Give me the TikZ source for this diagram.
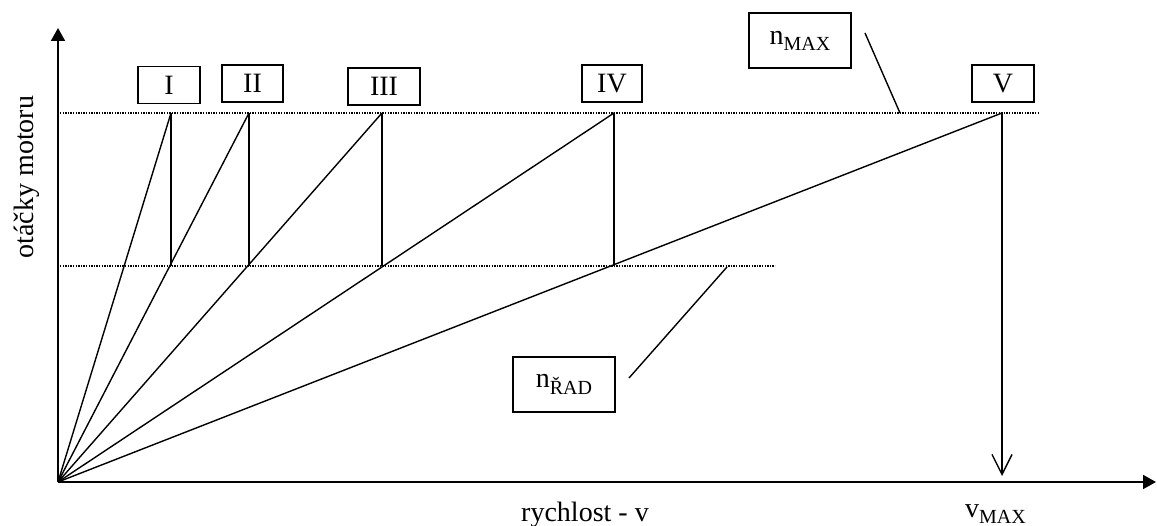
\documentclass[tikz,border=0pt]{standalone}
\usepackage{fontspec}
\setmainfont{Liberation Serif}
\usetikzlibrary{arrows.meta}
\newcommand{\sbs}[1]{\raisebox{-0.22em}{\fontsize{20}{22}\selectfont #1}}
\begin{document}
\begin{tikzpicture}[x=1pt,y=-1pt,
  every node/.style={font=\fontsize{28}{32}\selectfont},
  axis/.style={line width=2pt,-{Triangle[length=13pt,width=14pt]}},
  gear/.style={line width=1.4pt},
  lvl/.style={line width=1.3pt,dash pattern=on 1.3pt off 1.3pt},
  gbox/.style={draw,line width=1.5pt,inner sep=0pt,minimum height=37pt},
  lbox/.style={draw,line width=1.5pt,inner sep=0pt,minimum width=102pt,minimum height=55pt},
  leader/.style={line width=1.4pt}]
\useasboundingbox (0,0) rectangle (1157,526);
% coordinates
\coordinate (O) at (58,482);
\coordinate (Ytop) at (58,28);
\coordinate (Xend) at (1156,482);
\coordinate (TI) at (171,113);
\coordinate (TII) at (249,113);
\coordinate (TIII) at (382,113);
\coordinate (TIV) at (614,113);
\coordinate (TV) at (1002,113);
\coordinate (UL) at (60,113);
\coordinate (UR) at (1040,113);
\coordinate (LL) at (60,266);
\coordinate (LR) at (775,266);
\coordinate (VB) at (1002,476);
% level lines
\draw[lvl] (UL) -- (UR);
\draw[lvl] (LL) -- (LR);
% axes
\draw[axis] (O) -- (Ytop);
\draw[axis] (O) -- (Xend);
% gear lines
\foreach \g in {TI,TII,TIII,TIV,TV} \draw[gear] (O) -- (\g);
\foreach \g in {TI,TII,TIII,TIV} \draw[gear] (\g) -- (\g |- LL);
\draw[gear,-{Straight Barb[length=20pt,width=20pt]}] (TV) -- (VB);
% gear boxes
\node[gbox,minimum width=62pt] (bI) at (169,85) {I};
\node[gbox,minimum width=61pt] (bII) at (252.5,83.5) {II};
\node[gbox,minimum width=72pt] (bIII) at (384,86.5) {III};
\node[gbox,minimum width=60pt] (bIV) at (612,83.5) {IV};
\node[gbox,minimum width=62pt] (bV) at (1003,83.5) {V};
% label boxes
\node[lbox] (bmax) at (800,40.5) {n\sbs{MAX}};
\node[lbox] (brad) at (564,384.5) {n\sbs{ŘAD}};
\coordinate (lmA) at (865,33);
\coordinate (lmB) at (900,113);
\coordinate (lrA) at (629,378);
\coordinate (lrB) at (727,267);
\draw[leader] (lmA) -- (lmB);
\draw[leader] (lrA) -- (lrB);
% axis labels
\node[rotate=90] (ylab) at (27,177) {otáčky motoru};
\node[anchor=base] (xlab) at (585,521) {rychlost - v};
\node[anchor=base west,inner sep=0pt] (vmax) at (965,517) {v\sbs{MAX}};
\end{tikzpicture}
\end{document}
